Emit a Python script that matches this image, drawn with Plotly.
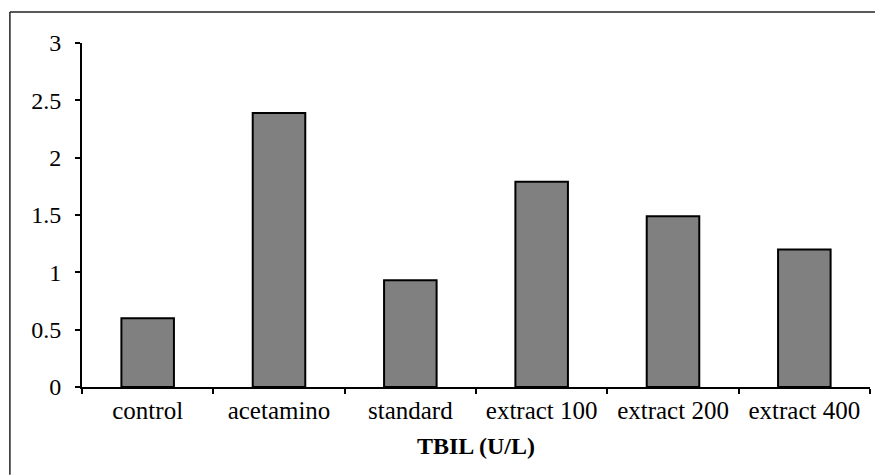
import plotly.graph_objects as go

categories = ["control", "acetamino", "standard", "extract 100", "extract 200", "extract 400"]
tbil_values = [0.6, 2.39, 0.93, 1.79, 1.49, 1.2]
y_tick_values = [0, 0.5, 1, 1.5, 2, 2.5, 3]
y_tick_labels = ["0", "0.5", "1", "1.5", "2", "2.5", "3"]
x_title = "TBIL (U/L)"

FONT = "Liberation Serif"

fig = go.Figure()
fig.add_trace(go.Bar(
    x=categories,
    y=tbil_values,
    marker=dict(color="#808080", line=dict(color="#000000", width=2)),
    showlegend=False,
))

fig.update_layout(
    width=875,
    height=475,
    margin=dict(l=82, r=5, t=43, b=88),
    paper_bgcolor="white",
    plot_bgcolor="white",
    bargap=0.6,
    font=dict(family=FONT, size=25, color="black"),
    xaxis=dict(
        type="category",
        showline=True,
        linecolor="black",
        linewidth=2,
        ticks="outside",
        tickson="boundaries",
        ticklen=5,
        tickwidth=2,
        tickcolor="black",
        showgrid=False,
        tickfont=dict(family=FONT, size=25, color="black"),
        title=dict(text="<b>" + x_title + "</b>", font=dict(family=FONT, size=24, color="black"), standoff=14),
    ),
    yaxis=dict(
        range=[0, 3],
        tickvals=y_tick_values,
        ticktext=y_tick_labels,
        showline=True,
        linecolor="black",
        linewidth=2,
        ticks="outside",
        ticklen=5,
        tickwidth=2,
        tickcolor="black",
        showgrid=False,
        zeroline=False,
        ticklabelstandoff=9,
        tickfont=dict(family=FONT, size=24, color="black"),
    ),
    shapes=[
        dict(type="line", xref="paper", yref="paper",
             x0=-0.0915, x1=1.0063, y0=1.0901, y1=1.0901,
             line=dict(color="#222222", width=1.5)),
        dict(type="line", xref="paper", yref="paper",
             x0=-0.0915, x1=-0.0915, y0=-0.255, y1=1.0901,
             line=dict(color="#222222", width=1.5)),
    ],
)

fig.write_html("out.html", config={"displayModeBar": False})
